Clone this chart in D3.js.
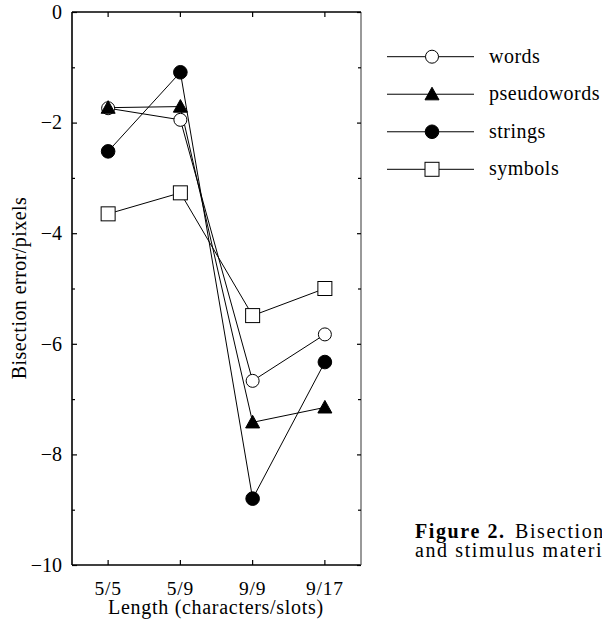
<!DOCTYPE html>
<html>
<head>
<meta charset="utf-8">
<script src="https://cdn.jsdelivr.net/npm/d3@7"></script>
<style>
  html, body { margin: 0; padding: 0; background: #fff; overflow: hidden; }
  svg { display: block; }
  text { font-family: "Liberation Serif", "Times New Roman", serif; fill: #000; }
</style>
</head>
<body>
<svg id="chart" width="602" height="620" font-family="Liberation Serif"></svg>
<script>
// ---- data ----
const categories = ["5/5", "5/9", "9/9", "9/17"];
const seriesNames = ["words", "pseudowords", "strings", "symbols"];
const words       = [-1.74, -1.95, -6.67, -5.83];
const pseudowords = [-1.73, -1.71, -7.42, -7.15];
const strings     = [-2.52, -1.09, -8.80, -6.33];
const symbols     = [-3.65, -3.27, -5.49, -5.00];
const markers     = ["circleOpen", "triangleFilled", "circleFilled", "squareOpen"];
const yMajorTicks = [0, -2, -4, -6, -8, -10];
const yMinorTicks = [-1, -3, -5, -7, -9];
const xTitle = "Length (characters/slots)";
const yTitle = "Bisection error/pixels";
const captionBold = "Figure 2.";
const captionRest = "Bisection";
const captionLine2 = "and stimulus materials";

const seriesValues = [words, pseudowords, strings, symbols];

// ---- layout ----
const svg = d3.select("#chart");
const pL = 72, pR = 361, pT = 12, pB = 565;

const x = d3.scaleBand().domain(categories).range([pL, pR]).padding(0);
const xc = d => x(d) + x.bandwidth() / 2;
const y = d3.scaleLinear().domain([-10, 0]).range([pB, pT]);

// frame
const frame = svg.append("g");
frame.append("line").attr("x1", pL).attr("x2", pR).attr("y1", pT).attr("y2", pT)
  .attr("stroke", "#000").attr("stroke-width", 1.6);
frame.append("line").attr("x1", pL).attr("x2", pR).attr("y1", pB).attr("y2", pB)
  .attr("stroke", "#000").attr("stroke-width", 1.6);
frame.append("line").attr("x1", pL).attr("x2", pL).attr("y1", pT).attr("y2", pB)
  .attr("stroke", "#000").attr("stroke-width", 1.6);
frame.append("line").attr("x1", pR).attr("x2", pR).attr("y1", pT).attr("y2", pB)
  .attr("stroke", "#555").attr("stroke-width", 1.2);

// axes (inward ticks)
const fontSize = 20;
const yAxisL = d3.axisRight(y).tickValues(yMajorTicks).tickSize(5).tickFormat("");
const yAxisLMinor = d3.axisRight(y).tickValues(yMinorTicks).tickSize(3).tickFormat("");
const yAxisR = d3.axisLeft(y).tickValues(yMajorTicks).tickSize(4).tickFormat("");
const yAxisRMinor = d3.axisLeft(y).tickValues(yMinorTicks).tickSize(3).tickFormat("");
const xAxisB = d3.axisTop(x).tickSize(5).tickFormat("");
const xAxisT = d3.axisBottom(x).tickSize(5).tickFormat("");

function styleAxis(g) {
  g.select(".domain").remove();
  g.selectAll(".tick line").attr("stroke", "#000").attr("stroke-width", 1.2);
}
svg.append("g").attr("transform", `translate(${pL},0)`).call(yAxisL).call(styleAxis);
svg.append("g").attr("transform", `translate(${pL},0)`).call(yAxisLMinor).call(styleAxis);
svg.append("g").attr("transform", `translate(${pR},0)`).call(yAxisR).call(styleAxis);
svg.append("g").attr("transform", `translate(${pR},0)`).call(yAxisRMinor).call(styleAxis);
svg.append("g").attr("transform", `translate(0,${pB})`).call(xAxisB).call(styleAxis);
svg.append("g").attr("transform", `translate(0,${pT})`).call(xAxisT).call(styleAxis);

// y tick labels
svg.append("g").selectAll("text").data(yMajorTicks).join("text")
  .attr("x", 62).attr("y", d => y(d)).attr("dy", "0.34em")
  .attr("text-anchor", "end").attr("font-size", fontSize)
  .text(d => d === 0 ? "0" : "\u2212" + Math.abs(d));

// x tick labels
svg.append("g").selectAll("text").data(categories).join("text")
  .attr("x", d => xc(d)).attr("y", 595)
  .attr("text-anchor", "middle").attr("font-size", 19.5)
  .attr("letter-spacing", "0.8px")
  .text(d => d);

// axis titles
svg.append("text").attr("x", 216).attr("y", 614).attr("text-anchor", "middle")
  .attr("font-size", fontSize).attr("letter-spacing", "0.7px").text(xTitle);
svg.append("text").attr("transform", "translate(26,288) rotate(-90)")
  .attr("text-anchor", "middle").attr("font-size", fontSize)
  .attr("letter-spacing", "0.45px").text(yTitle);

// markers
function drawMarker(g, type, cx, cy) {
  if (type === "circleOpen") {
    g.append("circle").attr("cx", cx).attr("cy", cy).attr("r", 6.5)
      .attr("fill", "#fff").attr("stroke", "#000").attr("stroke-width", 1);
  } else if (type === "circleFilled") {
    g.append("circle").attr("cx", cx).attr("cy", cy).attr("r", 6.8)
      .attr("fill", "#000").attr("stroke", "#000").attr("stroke-width", 1);
  } else if (type === "squareOpen") {
    g.append("rect").attr("x", cx - 7).attr("y", cy - 7).attr("width", 14).attr("height", 14)
      .attr("fill", "#fff").attr("stroke", "#000").attr("stroke-width", 1);
  } else if (type === "triangleFilled") {
    const s = 7;
    g.append("path")
      .attr("d", `M${cx},${cy - s}L${cx + s},${cy + s * 0.8}L${cx - s},${cy + s * 0.8}Z`)
      .attr("fill", "#000").attr("stroke", "#000").attr("stroke-width", 1);
  }
}

const line = d3.line().x((d, i) => xc(categories[i])).y(d => y(d));
const plot = svg.append("g");
seriesValues.forEach(vals => {
  plot.append("path").datum(vals).attr("d", line)
    .attr("fill", "none").attr("stroke", "#000").attr("stroke-width", 1);
});
const order = [0, 3, 2, 1];
order.forEach(si => {
  seriesValues[si].forEach((v, i) => drawMarker(plot, markers[si], xc(categories[i]), y(v)));
});

// legend
const legY = d3.scalePoint().domain(seriesNames).range([56.7, 169.3]);
const leg = svg.append("g");
seriesNames.forEach((name, si) => {
  const ly = legY(name);
  leg.append("line").attr("x1", 387).attr("x2", 474).attr("y1", ly).attr("y2", ly)
    .attr("stroke", "#000").attr("stroke-width", 1);
  drawMarker(leg, markers[si], 432, ly);
  leg.append("text").attr("x", 489).attr("y", ly).attr("dy", "0.3em")
    .attr("font-size", fontSize).attr("letter-spacing", "0.5px").text(name);
});

// caption (runs off the right edge, as in the source page)
const cap = svg.append("text").attr("x", 415).attr("y", 538).attr("font-size", 20).attr("letter-spacing", "1.6px");
cap.append("tspan").attr("font-weight", "bold").text(captionBold);
cap.append("tspan").attr("x", 515).text(captionRest);
svg.append("text").attr("x", 415).attr("y", 557).attr("font-size", 20).attr("letter-spacing", "1.6px")
  .text(captionLine2);
</script>
</body>
</html>
